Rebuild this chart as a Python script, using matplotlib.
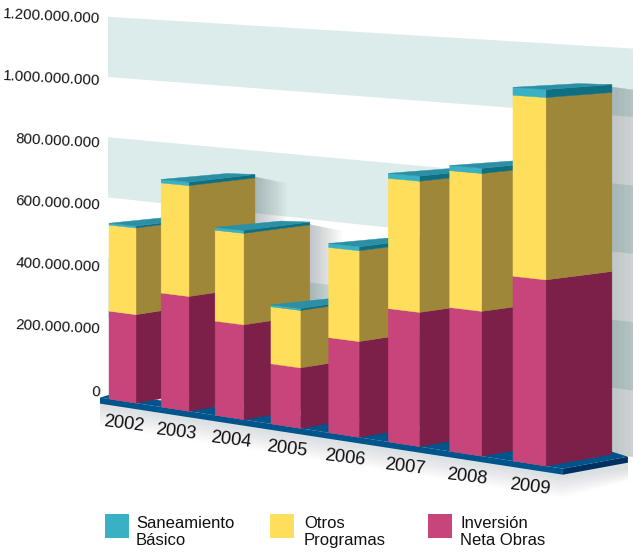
import matplotlib
matplotlib.use('Agg')
import matplotlib.pyplot as plt
from matplotlib.patches import Polygon

plt.rcParams['font.family'] = ['Liberation Sans', 'DejaVu Sans']

# values
years = ['2002', '2003', '2004', '2005', '2006', '2007', '2008', '2009']
inversion = [279e6, 357e6, 291e6, 183e6, 286e6, 395e6, 420e6, 532e6]
otros = [273e6, 345e6, 281e6, 174e6, 271e6, 386e6, 400e6, 521e6]
saneamiento = [6e6, 11e6, 9e6, 6e6, 12e6, 15e6, 15e6, 23e6]

y_ticks = [0, 200e6, 400e6, 600e6, 800e6, 1000e6, 1200e6]
y_labels = ['0', '200.000.000', '400.000.000', '600.000.000',
            '800.000.000', '1.000.000.000', '1.200.000.000']
bands = [(200e6, 400e6), (600e6, 800e6), (1000e6, 1200e6)]

legend_names = ['Saneamiento\nBásico', 'Otros\nProgramas', 'Inversión\nNeta Obras']

c_mag = ('#c7457b', '#7c2049')
c_yel = ('#fede5b', '#9e8738')
c_teal = ('#3ab0c4', '#0f6f80')
c_top = '#2b8fa6'
c_band = '#dcecea'
c_plate = '#00548c'
c_plate_side = '#003161'


# the chart is a hand made perspective, so the scales are functions (in pixels)
def bar_left(i):
    return 109 + 51.2 * i + 0.93 * i ** 2

def bar_width(i):
    return 27 + 0.85 * i

def floor_y(x):
    return 399 + 0.1535 * (x - 109)

def front_y(x, v):
    return floor_y(x) - v / 200e6 * (63 + 0.016 * (x - 109))

def side_y(xr, dx, v):
    # point on the side face, dx pixels behind the front right edge
    h = floor_y(xr) - front_y(xr, v)
    return floor_y(xr) - 0.18 * dx - h * (1 - 0.00028 * dx)

def wall_y(x, v):
    left = 378 - v / 200e6 * 60.2
    right = 459 - v / 200e6 * 68.4
    return left + (right - left) * (x - 108) / 525

def label_y(v):
    return 392 - v / 200e6 * 62.2


depth = 66

fig = plt.figure(figsize=(6.33, 5.53), dpi=100)
ax = fig.add_axes([0, 0, 1, 1])
ax.set_xlim(0, 633)
ax.set_ylim(553, 0)
ax.axis('off')

# wall bands
for lo, hi in bands:
    ax.add_patch(Polygon([(108, wall_y(108, hi)), (633, wall_y(633, hi)),
                          (633, wall_y(633, lo)), (108, wall_y(108, lo))],
                         fc=c_band, ec='none', zorder=1))

# soft shadow on the wall, built from thin layers
for i in range(len(years)):
    xl = bar_left(i)
    xr = xl + bar_width(i)
    total = inversion[i] + otros[i] + saneamiento[i]
    xb = xr + depth
    yt = side_y(xr, depth, total)
    yb = side_y(xr, depth, 0)
    length = 75 if i == len(years) - 1 else 32
    for k in range(1, 13):
        w = length * k / 12
        ax.add_patch(Polygon([(xb - 2, yt + 2), (xb + w, yt + 2 + 0.09 * w + 4 * k / 12),
                              (xb + w, yb + 0.12 * w), (xb - 2, yb)],
                             fc='#20303a', ec='none', alpha=0.022, zorder=2))

# floor plate
x0, x1 = bar_left(0) - 9, bar_left(7) + bar_width(7) + 17
for k in range(1, 13):
    d = 7 + 1.8 * k
    ax.add_patch(Polygon([(x0, floor_y(x0)), (x1, floor_y(x1)),
                          (x1 + 65, floor_y(x1) - 11), (x1 + 65, floor_y(x1) - 5 + d * 0.6),
                          (x1, floor_y(x1) + d), (x0, floor_y(x0) + d)],
                         fc='#30404a', ec='none', alpha=0.012, zorder=2))
ax.add_patch(Polygon([(x0, floor_y(x0)), (x1, floor_y(x1)), (x1 + 65, floor_y(x1) - 12),
                      (x1 + 49, floor_y(x1) - 17), (x0 + 10, floor_y(x0) - 3)],
                     fc=c_plate, ec='none', zorder=3))
ax.add_patch(Polygon([(x0, floor_y(x0)), (x1, floor_y(x1)),
                      (x1, floor_y(x1) + 6), (x0, floor_y(x0) + 6)],
                     fc=c_plate, ec='none', zorder=3))
ax.add_patch(Polygon([(x1, floor_y(x1)), (x1 + 65, floor_y(x1) - 12),
                      (x1 + 65, floor_y(x1) - 6), (x1, floor_y(x1) + 6)],
                     fc=c_plate_side, ec='none', zorder=3))

# bars, left to right so the later ones cover the earlier ones
for i in range(len(years)):
    xl = bar_left(i)
    xr = xl + bar_width(i)
    z = 4 + i
    base = 0
    for val, cols in zip([inversion[i], otros[i], saneamiento[i]], [c_mag, c_yel, c_teal]):
        top = base + val
        ax.add_patch(Polygon([(xr, front_y(xr, base)), (xr + depth, side_y(xr, depth, base)),
                              (xr + depth, side_y(xr, depth, top)), (xr, front_y(xr, top))],
                             fc=cols[1], ec=cols[1], lw=0.3, zorder=z))
        ax.add_patch(Polygon([(xl, front_y(xl, base)), (xr, front_y(xr, base)),
                              (xr, front_y(xr, top)), (xl, front_y(xl, top))],
                             fc=cols[0], ec=cols[0], lw=0.3, zorder=z))
        base = top
    # top face
    ax.add_patch(Polygon([(xl, front_y(xl, base)), (xr, front_y(xr, base)),
                          (xr + depth, side_y(xr, depth, base)),
                          (xl + depth, side_y(xr, depth, base) - 1)],
                         fc=c_top, ec=c_top, lw=0.3, zorder=z))
    xc = (xl + xr) / 2
    ax.text(xc + 1, floor_y(xc) + 23, years[i], fontsize=13.2, rotation=-7,
            rotation_mode='anchor', ha='center', va='center', color='#111111', zorder=20)

# y labels, they follow the slope of the wall
for v, lab in zip(y_ticks, y_labels):
    ax.text(100, label_y(v), lab, fontsize=10.8, rotation=-3, rotation_mode='anchor',
            ha='right', va='center', color='#111111', zorder=20)

# legend
legend_x = [105, 270, 428]
legend_col = [c_teal[0], c_yel[0], c_mag[0]]
legend_tx = [136, 304, 460]
for lx, col, tx, name in zip(legend_x, legend_col, legend_tx, legend_names):
    ax.add_patch(Polygon([(lx, 514), (lx + 24, 514), (lx + 24, 538), (lx, 538)],
                         fc=col, ec='none', zorder=20))
    ax.text(tx, 532, name, fontsize=12, ha='left', va='center', linespacing=1.2,
            color='#111111', zorder=20)

fig.savefig('out.png', dpi=100)
